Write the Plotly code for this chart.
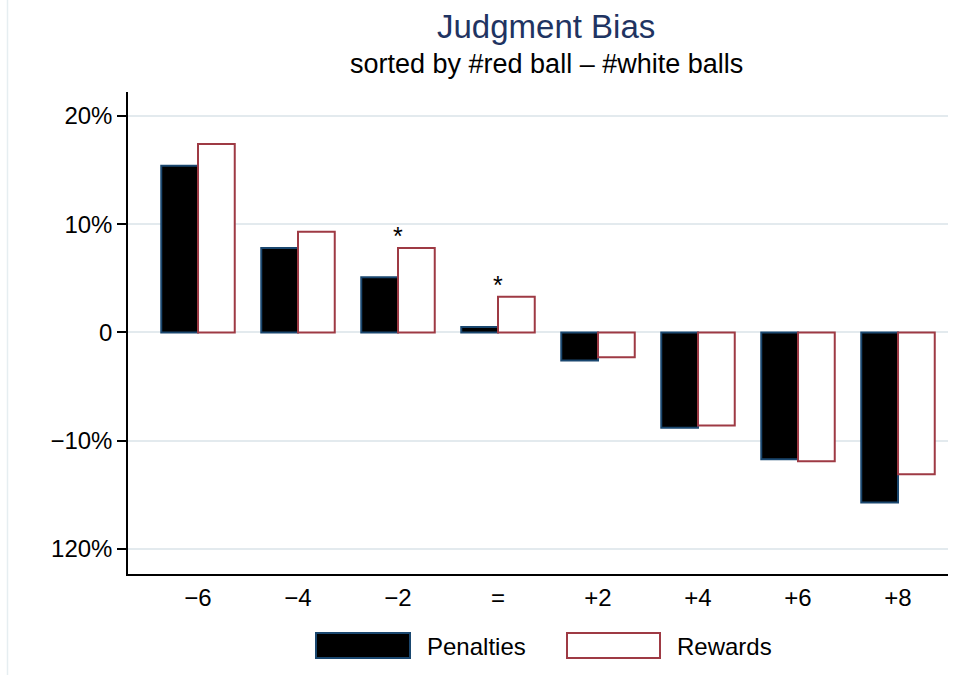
import plotly.graph_objects as go

# Difference in ball counts (red minus white)
categories = ["−6", "−4", "−2", "=", "+2", "+4", "+6", "+8"]

# Judgment bias in percent
penalties = [15.4, 7.8, 5.1, 0.5, -2.6, -8.8, -11.7, -15.7]
rewards = [17.4, 9.3, 7.8, 3.3, -2.3, -8.6, -11.9, -13.1]

# Categories where the reward/penalty difference is significant
significant = ["−2", "="]

y_tickvals = [-20, -10, 0, 10, 20]
y_ticktext = ["120%", "−10%", "0", "10%", "20%"]

NAVY = "#1a476f"
MAROON = "#9e3a44"
GRID = "#e3eaee"
FONT = "Liberation Sans, Arial, Helvetica, sans-serif"

W, H = 978, 675
L, R, T, B = 128, 30, 92, 101
PW, PH = W - L - R, H - T - B


def px(x):
    return (x - L) / PW


def py(y):
    return (H - B - y) / PH


fig = go.Figure()
fig.add_bar(
    x=categories, y=penalties, name="Penalties",
    marker=dict(color="black", line=dict(color=NAVY, width=2)),
    showlegend=False,
)
fig.add_bar(
    x=categories, y=rewards, name="Rewards",
    marker=dict(color="white", line=dict(color=MAROON, width=2)),
    showlegend=False,
)

annotations = []
# significance stars above the reward bars
for cat in significant:
    i = categories.index(cat)
    annotations.append(dict(
        x=cat, y=rewards[i], xref="x", yref="y", text="*",
        showarrow=False, yanchor="bottom", xanchor="center",
        font=dict(size=25, color="black", family=FONT), yshift=-4,
    ))

# title and subtitle
annotations.append(dict(
    x=px(546), y=py(47), xref="paper", yref="paper", text="Judgment Bias",
    showarrow=False, xanchor="center", yanchor="bottom",
    font=dict(size=33, color="#1f3462", family=FONT),
))
annotations.append(dict(
    x=px(546), y=py(81), xref="paper", yref="paper",
    text="sorted by #red ball – #white balls",
    showarrow=False, xanchor="center", yanchor="bottom",
    font=dict(size=27, color="black", family=FONT),
))

# legend keys
shapes = [
    dict(type="rect", xref="paper", yref="paper",
         x0=px(316), x1=px(410), y0=py(658), y1=py(633),
         fillcolor="black", line=dict(color=NAVY, width=2)),
    dict(type="rect", xref="paper", yref="paper",
         x0=px(567), x1=px(660), y0=py(658), y1=py(633),
         fillcolor="white", line=dict(color=MAROON, width=2)),
    # faint outer graph-region border on the left
    dict(type="line", xref="paper", yref="paper",
         x0=px(7.5), x1=px(7.5), y0=py(H), y1=py(0),
         line=dict(color="#e6eef1", width=1.5)),
]
annotations.append(dict(
    x=px(425), y=py(646), xref="paper", yref="paper", text="Penalties",
    showarrow=False, xanchor="left", yanchor="middle",
    font=dict(size=24, color="black", family=FONT),
))
annotations.append(dict(
    x=px(675), y=py(646), xref="paper", yref="paper", text="Rewards",
    showarrow=False, xanchor="left", yanchor="middle",
    font=dict(size=24, color="black", family=FONT),
))

fig.update_layout(
    width=W, height=H,
    margin=dict(l=L, r=R, t=T, b=B, pad=0),
    paper_bgcolor="white", plot_bgcolor="white",
    barmode="group", bargap=0.265, bargroupgap=0,
    font=dict(family=FONT, size=24, color="black"),
    showlegend=False,
    annotations=annotations,
    shapes=shapes,
)
fig.update_xaxes(
    type="category", range=[-0.7, 7.5],
    showline=True, linecolor="black", linewidth=1.5,
    showgrid=False, ticks="", ticklabelstandoff=1,
    tickfont=dict(size=24),
)
fig.update_yaxes(
    range=[-22.3, 22.2],
    tickvals=y_tickvals, ticktext=y_ticktext,
    showline=True, linecolor="black", linewidth=1.5,
    ticks="outside", ticklen=9, tickwidth=1.5, tickcolor="black",
    ticklabelstandoff=0,
    showgrid=True, gridcolor=GRID, gridwidth=1.5, zeroline=False,
    tickfont=dict(size=24),
)

fig.write_html("out.html")
